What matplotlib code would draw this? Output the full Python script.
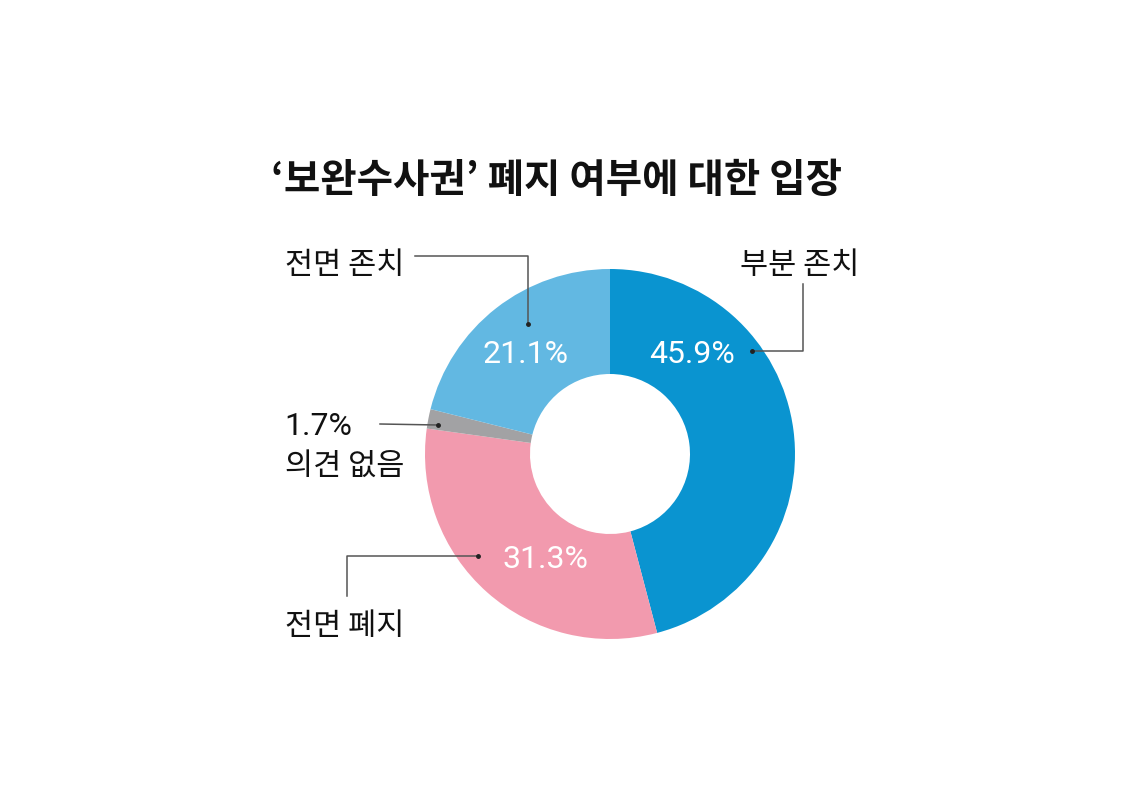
import matplotlib
matplotlib.use("Agg")
import matplotlib.pyplot as plt

plt.rcParams['font.family'] = ['Noto Sans CJK KR', 'DejaVu Sans']

title = "‘보완수사권’ 폐지 여부에 대한 입장"
categories = ["부분 존치", "전면 폐지", "의견 없음", "전면 존치"]
values = [45.9, 31.3, 1.7, 21.1]
pct_labels = ["45.9%", "31.3%", "1.7%", "21.1%"]
colors = ["#0A94D0", "#F29AAE", "#A2A2A4", "#62B8E2"]

W, H = 1125, 803
fig = plt.figure(figsize=(W / 100, H / 100), dpi=100)
ax = fig.add_axes([0, 0, 1, 1])
ax.set_xlim(0, W)
ax.set_ylim(0, H)
ax.set_aspect('equal')
ax.axis('off')

def Y(y):
    return H - y

cx, cy = 610, Y(455)
R_out, R_in = 185, 80
ax.pie(values, colors=colors, startangle=90, counterclock=False,
       center=(cx, cy), radius=R_out, frame=True,
       wedgeprops=dict(width=R_out - R_in, linewidth=0))
ax.set_xlim(0, W)
ax.set_ylim(0, H)
ax.axis('off')

ax.text(556, Y(180), title, ha='center', va='center', fontsize=28.5,
        fontweight='heavy', color='#111111')

lab_fs = 22
pct_fs = 23
line_kw = dict(color='#555555', linewidth=1.1)
dot_kw = dict(marker='o', markersize=2.5, color='#222222')
pct_kw = dict(ha='center', va='center', fontsize=pct_fs, color='white',
              family='Roboto', fontweight='normal')
lab_kw = dict(fontsize=lab_fs, color='#111111', fontweight='medium')

# 부분 존치
ax.text(800, Y(265), categories[0], ha='center', va='center', **lab_kw)
ax.plot([803, 803, 752], [Y(285), Y(352), Y(352)], **line_kw)
ax.plot([752], [Y(352)], **dot_kw)
ax.text(692, Y(355), pct_labels[0], **pct_kw)

# 전면 폐지
ax.text(345, Y(627), categories[1], ha='center', va='center', **lab_kw)
ax.plot([347, 347, 478], [Y(597), Y(557), Y(557)], **line_kw)
ax.plot([478], [Y(557)], **dot_kw)
ax.text(545, Y(560), pct_labels[1], **pct_kw)

# 의견 없음
ax.text(284, Y(427), pct_labels[2], ha='left', va='center', fontsize=lab_fs + 1,
        color='#111111', family='Roboto')
ax.text(285, Y(466), categories[2], ha='left', va='center', **lab_kw)
ax.plot([380, 438], [Y(425), Y(426)], **line_kw)
ax.plot([438], [Y(426)], **dot_kw)

# 전면 존치
ax.text(345, Y(265), categories[3], ha='center', va='center', **lab_kw)
ax.plot([415, 528, 528], [Y(257), Y(257), Y(325)], **line_kw)
ax.plot([528], [Y(325)], **dot_kw)
ax.text(525, Y(355), pct_labels[3], **pct_kw)

fig.savefig('out.png', dpi=100, facecolor='white')
